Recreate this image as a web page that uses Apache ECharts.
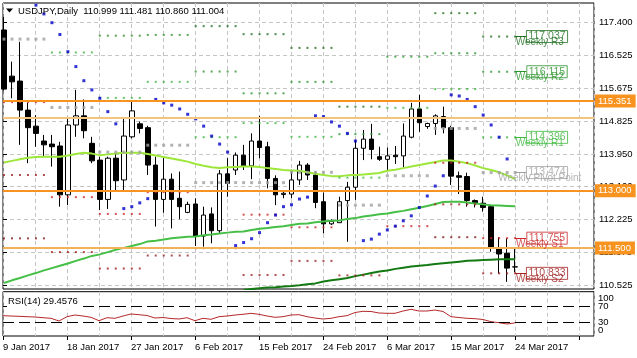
<!DOCTYPE html>
<html><head><meta charset="utf-8">
<script src="https://cdn.jsdelivr.net/npm/echarts@6/dist/echarts.min.js"></script>
<style>html,body{margin:0;padding:0;background:#fff}#c{width:637px;height:358px}</style>
</head><body><div id="c"></div>
<script>
const FONT = 'Liberation Sans';
const symbolName = 'USDJPY', timeframe = 'Daily';
const dateLabels = ['9 Jan 2017','18 Jan 2017','27 Jan 2017','6 Feb 2017','15 Feb 2017','24 Feb 2017','6 Mar 2017','15 Mar 2017','24 Mar 2017'];
const priceTicks = ['110.525','111.375','112.225','113.100','113.950','114.825','115.675','116.525','117.400'];
const rsiTicks = {100:'100', 70:'70', 30:'30', 0:'0'};

const opens = [117.21,116.00,115.87,115.11,114.69,114.30,114.22,114.17,112.89,114.72,114.96,114.24,113.80,112.77,113.85,113.28,114.41,114.75,114.65,113.67,112.77,113.30,112.80,112.43,112.65,111.81,112.39,111.95,113.44,113.54,113.93,113.65,114.30,114.15,113.32,112.90,112.91,113.28,113.67,113.41,112.71,112.13,112.16,112.74,113.09,114.11,114.35,113.89,113.82,113.93,113.91,114.40,115.14,114.68,114.76,114.94,114.65,113.39,113.37,112.74,112.67,112.58,111.49,111.36,110.999];
const highs = [117.55,116.38,116.90,115.30,114.98,114.46,114.46,114.28,114.90,115.64,115.39,114.41,113.89,113.89,113.98,114.90,115.33,114.81,114.70,113.89,113.89,113.45,113.50,112.71,112.80,112.58,112.56,113.54,113.85,114.00,114.20,114.50,114.96,114.28,113.40,113.01,113.55,113.78,113.72,113.50,112.95,112.25,112.84,113.23,114.33,114.59,114.75,114.15,114.13,114.17,114.76,115.30,115.51,114.78,115.00,115.20,114.70,113.50,113.47,112.77,112.84,112.60,111.78,111.75,111.481];
const lows = [115.62,115.42,114.20,113.72,114.15,113.89,113.63,112.58,112.62,114.41,114.37,113.72,112.49,112.52,113.00,113.00,114.37,114.50,113.41,112.06,112.42,112.01,112.25,112.41,111.55,111.53,111.62,111.88,112.84,113.41,113.54,113.30,113.85,113.06,112.62,112.80,112.80,113.15,113.28,112.54,111.88,112.10,112.16,111.66,112.76,113.80,113.82,113.78,113.54,113.70,113.61,114.37,114.54,114.62,114.46,114.50,113.15,112.91,112.58,112.56,112.45,111.40,110.83,110.61,110.860];
const closes = [115.66,115.85,115.11,114.65,114.50,114.20,114.15,112.89,114.72,114.96,114.57,113.78,112.77,113.85,113.26,114.43,115.09,114.63,113.67,112.77,113.30,112.77,112.58,112.64,111.81,112.36,111.95,113.44,113.19,113.93,113.65,114.30,114.13,113.32,112.89,112.93,113.28,113.67,113.41,112.69,112.13,112.19,112.71,113.09,114.11,114.35,114.08,113.82,113.91,113.89,114.43,115.14,114.78,114.76,114.96,114.65,113.38,113.35,112.74,112.68,112.56,111.52,111.34,110.97,111.004];

const maFast = [113.74,113.78,113.82,113.86,113.88,113.89,113.89,113.89,113.92,113.96,113.99,113.97,113.93,113.95,113.97,113.99,113.99,113.99,113.96,113.92,113.88,113.84,113.80,113.76,113.70,113.65,113.61,113.59,113.61,113.62,113.63,113.63,113.62,113.59,113.57,113.54,113.53,113.52,113.48,113.44,113.41,113.38,113.38,113.40,113.41,113.42,113.44,113.46,113.52,113.55,113.59,113.63,113.67,113.71,113.75,113.79,113.79,113.76,113.72,113.66,113.59,113.54,113.48,113.40,113.30];
const maMid = [110.58,110.65,110.71,110.78,110.84,110.91,110.97,111.03,111.09,111.16,111.22,111.29,111.33,111.39,111.45,111.50,111.55,111.60,111.67,111.69,111.72,111.75,111.77,111.79,111.80,111.83,111.85,111.88,111.90,111.92,111.93,111.97,112.00,112.02,112.05,112.07,112.10,112.13,112.14,112.17,112.19,112.21,112.22,112.26,112.28,112.32,112.35,112.38,112.40,112.44,112.47,112.51,112.55,112.60,112.65,112.70,112.71,112.71,112.69,112.66,112.64,112.62,112.61,112.60,112.59];
const maSlow = [null,null,null,null,null,null,null,null,null,null,null,null,null,null,null,null,null,null,null,null,null,null,null,null,null,null,null,null,null,null,110.40,110.42,110.44,110.46,110.47,110.49,110.50,110.52,110.55,110.57,110.62,110.65,110.68,110.71,110.76,110.80,110.84,110.88,110.91,110.95,110.98,111.01,111.03,111.05,111.08,111.10,111.12,111.14,111.16,111.17,111.18,111.19,111.20,111.20,111.20];
const sar = [null,null,null,null,117.86,117.63,117.40,117.09,116.64,116.25,115.88,115.64,115.42,115.07,114.75,112.53,112.58,112.68,112.79,115.39,115.30,115.24,115.14,115.00,114.88,114.69,114.43,114.22,114.01,111.56,111.64,111.74,111.90,112.16,112.36,112.58,112.63,112.78,112.83,114.96,114.94,114.80,114.69,114.50,114.30,111.69,111.73,111.86,111.97,112.07,112.21,112.34,112.56,112.86,113.12,113.39,115.51,115.48,115.39,115.20,114.98,114.72,114.40,113.83,null];
const rsi = [47.5,46.75,46,45,44.25,42.5,41,34.25,45,49.25,46.75,43.5,35,42.5,41,46.75,51.75,50,48,41.75,43,40.5,39.25,42.5,35,41,38.5,45,46.75,49.25,51,53.5,51,46.75,43.5,45,49.25,50,45,41.75,39.25,41,45,47.5,55.5,58.5,58,54.25,53.5,53.5,59.25,63.5,59.25,59.25,61.75,58,45,43,41,40,38,32.5,30,26.75,29.4576];

// weekly pivot levels, one value per 6-bar week segment
const wR3 = [null,null,null,null,117.31,117.10,116.74,115.20,null,117.65,117.037];
const wR2 = [null,null,117.06,117.08,116.12,115.55,115.85,114.48,116.51,116.60,116.115];
const wR1 = [null,116.62,115.43,115.85,114.40,114.77,114.41,113.34,115.17,115.66,114.396];
const wPP = [116.97,115.18,114.01,114.19,113.21,113.21,113.48,112.62,113.39,114.63,113.474];
const wS1 = [115.32,112.83,112.39,112.96,111.49,112.37,112.04,111.49,112.07,113.73,111.755];
const wS2 = [113.41,111.39,110.96,111.30,null,110.79,111.16,110.78,null,112.64,110.833];
const wS3 = [111.75,null,null,null,null,null,null,null,null,111.78,null];

const hLinePrices = [115.351, 114.922, 113.000, 111.500];
const hLineLabels = ['115.351', '', '113.000', '111.500'];
const rsiLevels = [70, 30];

const PMIN = 110.423, PMAX = 117.916;
const N = 74;
const last = opens.length - 1;
const categories = Array.from({length: N}, (_, i) => String(i));

const candleData = opens.map((o, i) => [o, closes[i], lows[i], highs[i]]);
function weekDots(levels) {
  const out = [];
  levels.forEach((v, w) => {
    if (v == null) return;
    for (let i = 6 * w; i <= Math.min(6 * w + 5, last); i++) out.push([i, v]);
  });
  return out;
}
const cR3 = '#1f6f1f', cR2 = '#2a922a', cR1 = '#3cb83c', cPP = '#a0a0a0', cS1 = '#c82828', cS2 = '#a02020', cS3 = '#801818';
const ORANGE = '#F7931E';
const hLineColors = [ORANGE, '#F3C47E', ORANGE, '#F2B356'];

const labelLevels = [wR3[10], wR2[10], wR1[10], wPP[10], wS1[10], wS2[10]];
const labelNames = ['Weekly R3','Weekly R2','Weekly R1','Weekly Pivot Point','Weekly S1','Weekly S2'];
const labelColors = [cR3, cR2, cR1, cPP, cS1, cS2];

const grid = {color:'#c6c6c6', type:[4,3], width:1};
const axFont = {fontFamily: FONT, fontSize: 9.5, color: '#000'};

const labelData = [];
labelLevels.forEach((l, k) => {
  labelData.push({value:[67.1, l], label:{show:true, position:'inside', formatter: labelNames[k], color: labelColors[k], fontFamily: FONT, fontSize: 10, offset:[0, 6]}});
});
labelLevels.forEach((l, k) => {
  labelData.push({value:[68, l], label:{show:true, position:'inside', formatter: l.toFixed(3), color: labelColors[k], borderColor: labelColors[k], borderWidth: 1, padding:[1,2,0,2], fontFamily: FONT, fontSize: 10.5}});
});

const hMarks = hLinePrices.map((p, k) => ({
  yAxis: p,
  lineStyle: {color: hLineColors[k], width: 2, type: 'solid'},
  label: {show: hLineLabels[k] !== '', position: 'end', distance: 1, formatter: hLineLabels[k], color: '#fff', backgroundColor: ORANGE, padding: [2,4,1,3], fontFamily: FONT, fontSize: 9.5}
}));
hMarks.push({
  yAxis: closes[last],
  lineStyle: {width: 0, opacity: 0},
  label: {show: true, position: 'end', distance: 1, formatter: closes[last].toFixed(3), color: '#fff', backgroundColor: '#000', padding: [2,4,1,3], fontFamily: FONT, fontSize: 9.5}
});

const chart = echarts.init(document.getElementById('c'), null, {renderer: 'canvas'});
chart.setOption({
  animation: false,
  textStyle: {fontFamily: FONT},
  grid: [
    {left: 3, right: 43, top: 3, bottom: 69, show: true, borderColor: '#000', borderWidth: 1},
    {left: -1, right: 46, top: 3, bottom: 69},
    {left: 3, right: 43, top: 22.7, bottom: 72.9},
    {left: 3, right: 43, top: 291.7, bottom: 22, show: true, borderColor: '#000', borderWidth: 1},
    {left: 3, right: 43, top: 294.7, bottom: 23.3}
  ],
  xAxis: [
    {gridIndex: 0, type: 'value', min: 0, max: 73.875, interval: 4, position: 'top', axisLine: {show: false}, axisTick: {show: false}, axisLabel: {show: false}, splitLine: {show: true, lineStyle: grid}},
    {gridIndex: 1, type: 'category', data: categories, boundaryGap: true, show: false},
    {gridIndex: 2, type: 'value', min: 0, max: 1, show: false},
    {gridIndex: 3, type: 'value', min: 0, max: 73.875, interval: 4, position: 'top', axisLine: {show: false}, axisTick: {show: false}, axisLabel: {show: false}, splitLine: {show: true, lineStyle: grid}},
    {gridIndex: 3, type: 'value', min: 0, max: 73.875, interval: 8, position: 'bottom', axisLine: {show: false},
      axisTick: {show: true, length: 4, lineStyle: {color: '#000'}}, splitLine: {show: false},
      axisLabel: Object.assign({show: true, align: 'left', margin: 6, showMaxLabel: false, formatter: v => { const k = v / 8; return (Number.isInteger(k) && k < dateLabels.length) ? dateLabels[k] : ''; }}, axFont)},
    {gridIndex: 4, type: 'value', min: 0, max: 73.875, show: false}
  ],
  yAxis: [
    {gridIndex: 0, type: 'value', min: PMIN, max: PMAX, show: false},
    {gridIndex: 1, type: 'value', min: PMIN, max: PMAX, show: false},
    {gridIndex: 2, type: 'value', min: 110.525, max: 117.4, interval: 0.859375, position: 'right',
      axisLine: {show: false}, axisTick: {show: true, length: 4, lineStyle: {color: '#000'}},
      splitLine: {show: true, lineStyle: grid},
      axisLabel: Object.assign({margin: 5, formatter: v => { const k = Math.round((v - 110.525) / 0.859375); return priceTicks[k] || ''; }}, axFont)},
    {gridIndex: 3, type: 'value', min: -3.25, max: 107.5, show: false},
    {gridIndex: 4, type: 'value', min: 0, max: 100, interval: 10, position: 'right',
      axisLine: {show: false}, axisTick: {show: false}, splitLine: {show: false},
      axisLabel: Object.assign({margin: 4, formatter: v => v === 100 ? '{t|100}' : (v === 0 ? '{b|0}' : (rsiTicks[v] || '')),
        rich: {t: {padding: [7,0,0,0], fontFamily: FONT, fontSize: 9.5, color: '#000'}, b: {padding: [0,0,9,0], fontFamily: FONT, fontSize: 9.5, color: '#000'}}}, axFont)}
  ],
  series: [
    {type: 'candlestick', xAxisIndex: 1, yAxisIndex: 1, data: candleData, barWidth: 5, z: 2,
      itemStyle: {color: '#ffffff', color0: '#000000', borderColor: '#000000', borderColor0: '#000000', borderWidth: 1}},
    {type: 'line', xAxisIndex: 1, yAxisIndex: 1, data: maSlow, symbol: 'none', z: 3, lineStyle: {color: '#137a13', width: 2}},
    {type: 'line', xAxisIndex: 1, yAxisIndex: 1, data: maMid, symbol: 'none', z: 3, lineStyle: {color: '#45bf45', width: 2}},
    {type: 'line', xAxisIndex: 1, yAxisIndex: 1, data: maFast, symbol: 'none', z: 3, lineStyle: {color: '#9de63a', width: 2}},
    {type: 'scatter', xAxisIndex: 1, yAxisIndex: 1, data: weekDots(wR3), symbol: 'rect', symbolSize: 2, z: 3, itemStyle: {color: cR3}},
    {type: 'scatter', xAxisIndex: 1, yAxisIndex: 1, data: weekDots(wR2), symbol: 'rect', symbolSize: 2, z: 3, itemStyle: {color: cR2}},
    {type: 'scatter', xAxisIndex: 1, yAxisIndex: 1, data: weekDots(wR1), symbol: 'rect', symbolSize: 2, z: 3, itemStyle: {color: cR1}},
    {type: 'scatter', xAxisIndex: 1, yAxisIndex: 1, data: weekDots(wPP), symbol: 'rect', symbolSize: 3, z: 3, itemStyle: {color: cPP}},
    {type: 'scatter', xAxisIndex: 1, yAxisIndex: 1, data: weekDots(wS1), symbol: 'rect', symbolSize: 2, z: 3, itemStyle: {color: cS1}},
    {type: 'scatter', xAxisIndex: 1, yAxisIndex: 1, data: weekDots(wS2), symbol: 'rect', symbolSize: 2, z: 3, itemStyle: {color: cS2}},
    {type: 'scatter', xAxisIndex: 1, yAxisIndex: 1, data: weekDots(wS3), symbol: 'rect', symbolSize: 2, z: 3, itemStyle: {color: cS3}},
    {type: 'scatter', xAxisIndex: 1, yAxisIndex: 1, data: sar.map((v, i) => [i, v]).filter(d => d[1] != null), symbol: 'rect', symbolSize: 3, z: 4, itemStyle: {color: '#0000c8'}},
    {type: 'line', xAxisIndex: 0, yAxisIndex: 0, data: [[-10, 100]], symbol: 'none', z: 5,
      markLine: {silent: true, symbol: ['none', 'none'], animation: false, data: hMarks}},
    {type: 'scatter', xAxisIndex: 0, yAxisIndex: 0, data: labelData, symbolSize: 0, z: 6,
      markLine: {silent: true, symbol: ['none', 'none'], animation: false, label: {show: false},
        data: labelLevels.map((l, k) => [{coord: [64, l], lineStyle: {color: labelColors[k], width: 1, type: 'solid'}}, {coord: [65.4, l]}])}},
    {type: 'line', xAxisIndex: 5, yAxisIndex: 4, data: rsi.map((v, i) => [i, v]), symbol: 'none', z: 3,
      lineStyle: {color: '#b42828', width: 1},
      markLine: {silent: true, symbol: ['none', 'none'], animation: false, label: {show: false},
        lineStyle: {color: '#000', type: [11, 5], width: 1}, data: rsiLevels.map(v => ({yAxis: v}))}}
  ],
  graphic: [
    {type: 'polygon', z: 100, shape: {points: [[6, 8.5], [13, 8.5], [9.5, 12.5]]}, style: {fill: '#000'}},
    {type: 'text', z: 100, x: 18, y: 11, style: {text: symbolName + ',' + timeframe + '  ' + [opens[last], highs[last], lows[last], closes[last]].map(v => v.toFixed(3)).join(' '), font: '9.5px "Liberation Sans"', fill: '#000', verticalAlign: 'middle'}},
    {type: 'text', z: 100, x: 7, y: 301, style: {text: 'RSI(14) ' + rsi[last].toFixed(4), font: '9.5px "Liberation Sans"', fill: '#000', verticalAlign: 'middle', backgroundColor: '#fff', padding: [2, 3, 4, 1]}}
  ]
});
</script></body></html>
